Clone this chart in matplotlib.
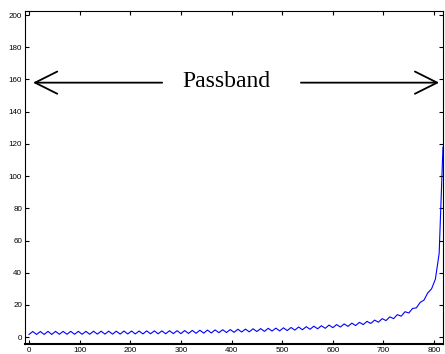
import numpy as np
import matplotlib
matplotlib.use("Agg")
import matplotlib.pyplot as plt

# frequency samples (every 7.5 units) and magnitude
freq = np.arange(0, 825, 7.5)
mag = [
    1.7, 3.5, 1.7, 3.5, 1.7, 3.6, 1.7, 3.6, 1.8, 3.6,
    1.8, 3.6, 1.8, 3.6, 1.8, 3.6, 1.8, 3.7, 1.9, 3.7,
    1.9, 3.7, 1.9, 3.7, 1.9, 3.8, 2.0, 3.8, 2.0, 3.8,
    2.0, 3.9, 2.1, 3.9, 2.1, 3.9, 2.1, 4.0, 2.2, 4.0,
    2.2, 4.1, 2.3, 4.2, 2.4, 4.3, 2.5, 4.4, 2.6, 4.5,
    2.8, 4.6, 2.9, 4.7, 3.0, 4.9, 3.2, 5.0, 3.3, 5.2,
    3.5, 5.3, 3.6, 5.5, 3.8, 5.6, 3.9, 5.8, 4.1, 6.0,
    4.4, 6.3, 4.6, 6.5, 4.9, 6.8, 5.2, 7.1, 5.5, 7.5,
    5.9, 7.8, 6.3, 8.2, 6.7, 8.7, 7.2, 9.2, 7.8, 9.8,
    8.5, 10.6, 9.3, 11.5, 10.3, 12.6, 11.5, 14.0, 13.0, 15.8,
    15.0, 17.8, 18.2, 21.6, 23.0, 27.5, 30.0, 36.0, 52.0, 118.0,
]
xticks = list(range(0, 900, 100))
yticks = list(range(0, 220, 20))
band_label = "Passband"

fig = plt.figure(figsize=(4.45, 3.54), dpi=100)
ax = fig.add_axes([0.056, 0.028, 0.94, 0.941])

ax.plot(freq, mag, color="#0000ff", lw=0.8)

ax.set_xlim(-8, 818)
ax.set_ylim(-4.3, 202.5)
ax.set_xticks(xticks)
ax.set_yticks(yticks)
ax.tick_params(direction="in", length=3, width=0.8, pad=2, labelsize=5.8,
               top=True, right=True)
for lab in ax.get_xticklabels() + ax.get_yticklabels():
    lab.set_fontfamily("Liberation Sans")
for s in ["left", "top", "right"]:
    ax.spines[s].set_linewidth(0.8)
ax.spines["bottom"].set_linewidth(1.5)

# passband arrows + label
arrow = dict(arrowstyle="->,head_length=1.6,head_width=0.8", lw=1.3,
             color="black", shrinkA=0, shrinkB=0)
ax.annotate("", xy=(8, 158), xytext=(263, 158), arrowprops=arrow)
ax.annotate("", xy=(810, 158), xytext=(537, 158), arrowprops=arrow)
ax.text(390, 159, band_label, ha="center", va="center", fontsize=17,
        family="Liberation Serif")

fig.savefig("out.png", dpi=100)
